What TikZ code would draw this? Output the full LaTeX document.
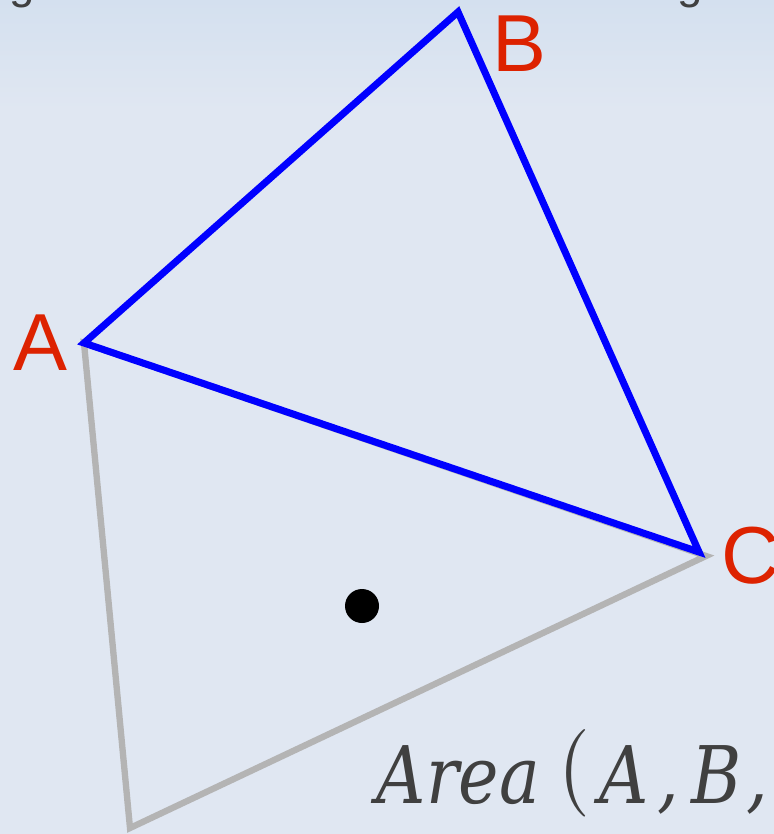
\documentclass[tikz,border=0pt]{standalone}
\usepackage{fontspec}
\usepackage{amsmath}
\newfontfamily\labelfont{Liberation Sans}
\newfontfamily\areafont[FakeStretch=0.86]{DejaVu Serif}
\usetikzlibrary{positioning}
\definecolor{bgtop}{RGB}{212,224,239}
\definecolor{bgbot}{RGB}{224,231,242}
\definecolor{vertexred}{RGB}{221,34,0}
\definecolor{textgray}{RGB}{64,64,64}
\definecolor{shadowgray}{RGB}{180,180,180}
\tikzset{
    tri/.style={draw=blue, line width=2pt, line join=miter},
    ghost/.style={draw=shadowgray, line width=1.8pt, line join=miter},
    vlabel/.style={text=vertexred, inner sep=0pt, font=\labelfont\fontsize{23}{23}\selectfont},
    cut/.style={text=textgray, inner sep=0pt, anchor=base, font=\labelfont\fontsize{13}{13}\selectfont}
}

\begin{document}
\begin{tikzpicture}[x=0.01cm, y=-0.01cm]
        % background
        \useasboundingbox (0,0) rectangle (774,834);
        \fill[bgbot] (0,0) rectangle (774,834);
        \shade[top color=bgtop, bottom color=bgbot] (0,0) rectangle (774,110);
        % vertices
        \coordinate (A) at (84,343);
        \coordinate (B) at (458,12);
        \coordinate (C) at (699,552);
        \coordinate (Cg) at (706,556);
        \coordinate (D) at (130,828);
        % grey triangle
        \draw[ghost] (A) -- (D) -- (Cg) -- cycle;
        % blue triangle
        \draw[tri] (A) -- (B) -- (C) -- cycle;
        \fill[black] (362,606) circle (17);
        % labels
        \node[vlabel] (labA) at (40,343) {A};
        \node[vlabel] (labB) at (519,44) {B};
        \node[vlabel] (labC) at (751,556) {C};
        \node[cut] (gl) at (22,-1) {g};
        \node[cut] (gr) at (690,-1) {g};
        \node[text=textgray, anchor=base west, inner sep=0pt, font=\areafont\itshape\fontsize{22.6}{22.6}\selectfont] (area) at (376,803)
            {Area\hspace{0.16cm}\raisebox{0.11cm}{\fontsize{22}{22}\selectfont$\bigl($}\hspace{0.1cm}A\hspace{0.09cm},\hspace{0.12cm}B\hspace{0.05cm},};
    \end{tikzpicture}
\end{document}
